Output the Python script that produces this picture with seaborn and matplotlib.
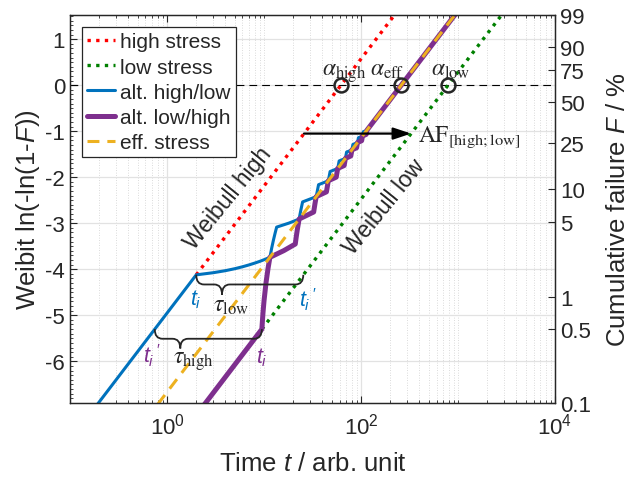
import numpy as np
import matplotlib
matplotlib.use('Agg')
import matplotlib.pyplot as plt
import seaborn as sns
from matplotlib.patches import PathPatch
from matplotlib.path import Path
from matplotlib.ticker import FixedLocator, MultipleLocator, NullFormatter

# ---------------- data ----------------
red_t = [2.0, 300.0]
red_y = [-4.121, 1.892]
green_t = [9.5, 4000.0]
green_y = [-5.302, 1.950]
eff_t = [0.8, 1000.0]
eff_y = [-6.938, 1.619]

blue_t = [0.15, 2, 3, 4, 5, 6, 7, 8, 9, 10, 11.5, 12, 12.5, 13, 13.5, 18, 23, 24, 25,
          34.5, 36.5, 46, 48, 57.5, 59.5, 69, 71, 80.5, 82.5, 92, 94, 103.5, 105.5, 115, 1000]
blue_y = [-7.229, -4.121, -4.074, -4.030, -3.987, -3.945, -3.905, -3.866, -3.829, -3.792,
          -3.740, -3.539, -3.367, -3.217, -3.083, -2.997, -2.908, -2.707, -2.535,
          -2.421, -2.161, -2.076, -1.875, -1.808, -1.645, -1.590, -1.452, -1.405, -1.286,
          -1.245, -1.140, -1.103, -1.010, -0.977, 1.619]

purple_t = [2, 9.5, 9.75, 10, 10.5, 11, 11.5, 16, 21, 21.5, 22, 23, 32.5, 33.5, 34.5, 44, 46,
            55.5, 57.5, 67, 69, 78.5, 80.5, 90, 92, 101.5, 103.5, 113, 115, 1000]
purple_y = [-7.172, -5.302, -4.956, -4.687, -4.283, -3.981, -3.740, -3.594, -3.451, -3.291,
            -3.149, -2.908, -2.755, -2.577, -2.421, -2.317, -2.076, -1.997, -1.808, -1.745,
            -1.590, -1.536, -1.405, -1.359, -1.245, -1.205, -1.103, -1.068, -0.977, 1.619]

alpha_t = [62.0, 259.5, 788.0]          # alpha_high, alpha_eff, alpha_low
alpha_labels = [r'$\alpha_{\mathrm{high}}$', r'$\alpha_{\mathrm{eff}}$', r'$\alpha_{\mathrm{low}}$']
alpha_label_t = [67.3, 184.5, 833.0]

af_arrow_t = [25.8, 328.5]
af_arrow_y = -1.05

F_ticks = [0.1, 0.5, 1, 5, 10, 25, 50, 75, 90, 99]
F_labels = ['0.1', '0.5', '1', '5', '10', '25', '50', '75', '90', '99']
y_ticks = [-6, -5, -4, -3, -2, -1, 0, 1]
x_ticks = [1, 100, 10000]
legend_labels = ['high stress', 'low stress', 'alt. high/low', 'alt. low/high', 'eff. stress']

# braces: t0, t1, y_end, y_bar, t_tip, y_tip
brace_low = [2.0, 25.4, -4.12, -4.33, 3.69, -4.55]
brace_high = [0.7474, 9.5, -5.30, -5.51, 1.37, -5.72]

# ---------------- style ----------------
sns.set_theme(style='white')
plt.rcParams['font.family'] = ['Liberation Sans', 'DejaVu Sans']
plt.rcParams['mathtext.fontset'] = 'custom'
plt.rcParams['mathtext.rm'] = 'Liberation Sans'
plt.rcParams['mathtext.it'] = 'Liberation Sans:italic'
plt.rcParams['mathtext.bf'] = 'Liberation Sans:bold'
plt.rcParams['axes.unicode_minus'] = False

DARK = '#262626'
C_RED = '#FF0000'
C_GREEN = '#008000'
C_BLUE = '#0072BD'
C_PURPLE = '#7E2F8E'
C_YELLOW = '#EDB120'

fig = plt.figure(figsize=(6.29, 4.81), dpi=100)
ax = fig.add_axes([0.1113, 0.160, 0.7711, 0.8067])
ax.set_xscale('log')
ylo = np.log(-np.log(1 - 0.001))
yhi = np.log(-np.log(1 - 0.99))
ax.set_xlim(0.1, 1e4)
ax.set_ylim(ylo, yhi)

dot = (0, (1.0, 1.6))
sns.lineplot(x=red_t, y=red_y, ax=ax, sort=False, estimator=None, color=C_RED,
             linewidth=2.4, label=legend_labels[0])
ax.lines[-1].set_linestyle(dot)
sns.lineplot(x=green_t, y=green_y, ax=ax, sort=False, estimator=None, color=C_GREEN,
             linewidth=2.4, label=legend_labels[1])
ax.lines[-1].set_linestyle(dot)
sns.lineplot(x=blue_t, y=blue_y, ax=ax, sort=False, estimator=None, color=C_BLUE,
             linewidth=2.2, label=legend_labels[2])
sns.lineplot(x=purple_t, y=purple_y, ax=ax, sort=False, estimator=None, color=C_PURPLE,
             linewidth=3.6, label=legend_labels[3])
sns.lineplot(x=eff_t, y=eff_y, ax=ax, sort=False, estimator=None, color=C_YELLOW,
             linewidth=2.2, label=legend_labels[4])
ax.lines[-1].set_linestyle((0, (3.9, 2.6)))
handles = list(ax.lines[:5])

# zero line and alpha circles
ax.axhline(0, color='black', lw=0.8, ls=(0, (7, 4.5)), zorder=1.5)
ax.plot(alpha_t, [0] * len(alpha_t), 'o', mfc='none', mec=DARK, ms=10, mew=1.8, zorder=6)
for t, lab in zip(alpha_label_t, alpha_labels):
    ax.text(t, 0.24, lab, ha='center', va='baseline', fontsize=17, math_fontfamily='stix',
            color=DARK)

# AF arrow
ax.annotate('', xy=(af_arrow_t[1], af_arrow_y), xytext=(af_arrow_t[0], af_arrow_y),
            arrowprops=dict(arrowstyle='-|>,head_length=0.9,head_width=0.3', color='black',
                            lw=1.6, mutation_scale=12, shrinkA=0, shrinkB=0), zorder=7)
ax.text(389, -1.217, r'$\mathrm{AF}_{[\mathrm{high;low}]}$', ha='left', va='baseline',
        fontsize=16.8, math_fontfamily='stix', color=DARK)

# Weibull labels
ax.text(4.29, -2.435, 'Weibull high', rotation=51, ha='center', va='center', fontsize=16.5,
        color=DARK, rotation_mode='anchor')
ax.text(174, -2.63, 'Weibull low', rotation=51, ha='center', va='center', fontsize=16.5,
        color=DARK, rotation_mode='anchor')

# braces
def draw_brace(b, r_dec=0.08):
    t0, t1, y_end, y_bar, t_tip, y_tip = b
    l0, l1, lt = np.log10([t0, t1, t_tip])
    v = [(l0, y_end), (l0, y_bar), (l0 + r_dec, y_bar),
         (lt - r_dec, y_bar), (lt, y_bar), (lt, y_tip),
         (lt, y_bar), (lt + r_dec, y_bar),
         (l1 - r_dec, y_bar), (l1, y_bar), (l1, y_end)]
    codes = [Path.MOVETO, Path.CURVE3, Path.CURVE3, Path.LINETO, Path.CURVE3, Path.CURVE3,
             Path.CURVE3, Path.CURVE3, Path.LINETO, Path.CURVE3, Path.CURVE3]
    verts = [(10 ** x, y) for x, y in v]
    ax.add_patch(PathPatch(Path(verts, codes), fill=False, edgecolor=DARK, lw=1.3, zorder=7))

draw_brace(brace_low)
draw_brace(brace_high)

ax.text(2.0, -4.65, r'$t_i$', color=C_BLUE, fontsize=15.5, ha='center', va='center')
ax.text(28.6, -4.65, r"$t_i\,'$", color=C_BLUE, fontsize=15.5, ha='center', va='center')
ax.text(4.62, -4.78, r'$\tau_{\mathrm{low}}$', color=DARK, fontsize=17, ha='center',
        va='center', math_fontfamily='stix')
ax.text(0.705, -5.85, r"$t_i\,'$", color=C_PURPLE, fontsize=15.5, ha='center', va='center')
ax.text(9.4, -5.89, r'$t_i$', color=C_PURPLE, fontsize=15.5, ha='center', va='center')
ax.text(1.87, -5.98, r'$\tau_{\mathrm{high}}$', color=DARK, fontsize=17, ha='center',
        va='center', math_fontfamily='stix')

# axes, ticks, grid
ax.xaxis.set_major_locator(FixedLocator(x_ticks))
minor_x = [k * 10.0 ** d for d in range(-1, 4) for k in range(1, 10)
           if not (k == 1 and d in (0, 2))]
ax.xaxis.set_minor_locator(FixedLocator(minor_x))
ax.xaxis.set_minor_formatter(NullFormatter())
ax.yaxis.set_major_locator(FixedLocator(y_ticks))
ax.yaxis.set_minor_locator(MultipleLocator(0.1))
ax.tick_params(which='major', direction='in', length=5, width=0.8, colors=DARK,
               labelsize=16, top=True, bottom=True, left=True, right=False)
ax.tick_params(which='minor', direction='in', length=2.5, width=0.6, colors=DARK,
               top=True, bottom=True, left=True, right=False)
ax.tick_params(axis='x', pad=7)
ax.grid(which='major', color='#e2e2e2', lw=0.9, ls='-')
ax.grid(which='minor', axis='x', color='#cfcfcf', lw=0.6, ls=(0, (1, 2)))
ax.set_axisbelow(True)
for s in ax.spines.values():
    s.set_color(DARK)
    s.set_linewidth(0.9)

ax.set_xlabel('Time $t$ / arb. unit', fontsize=18.5, color=DARK, labelpad=9)
ax.set_ylabel('Weibit ln(-ln(1-$F$))', fontsize=18.5, color=DARK, labelpad=2)

ax2 = ax.twinx()
ax2.set_ylim(ylo, yhi)
F_pos = [np.log(-np.log(1 - f / 100.0)) for f in F_ticks]
ax2.set_yticks(F_pos)
ax2.set_yticklabels(F_labels)
ax2.tick_params(which='major', direction='in', length=5, width=0.8, colors=DARK, labelsize=16)
ax2.set_ylabel('Cumulative failure $F$ / %', fontsize=18.5, color=DARK, labelpad=11)
ax2.grid(False)
for s in ax2.spines.values():
    s.set_color(DARK)
    s.set_linewidth(0.9)

leg = ax.legend(handles, legend_labels, loc='upper left', bbox_to_anchor=(0.0247, 0.969),
                frameon=True, fancybox=False, edgecolor=DARK, framealpha=1, fontsize=15,
                handlelength=1.35, handletextpad=0.22, labelspacing=0.3, borderpad=0.25,
                borderaxespad=0)
leg.get_frame().set_linewidth(0.9)
leg.set_zorder(20)

fig.savefig('out.png', dpi=100)
